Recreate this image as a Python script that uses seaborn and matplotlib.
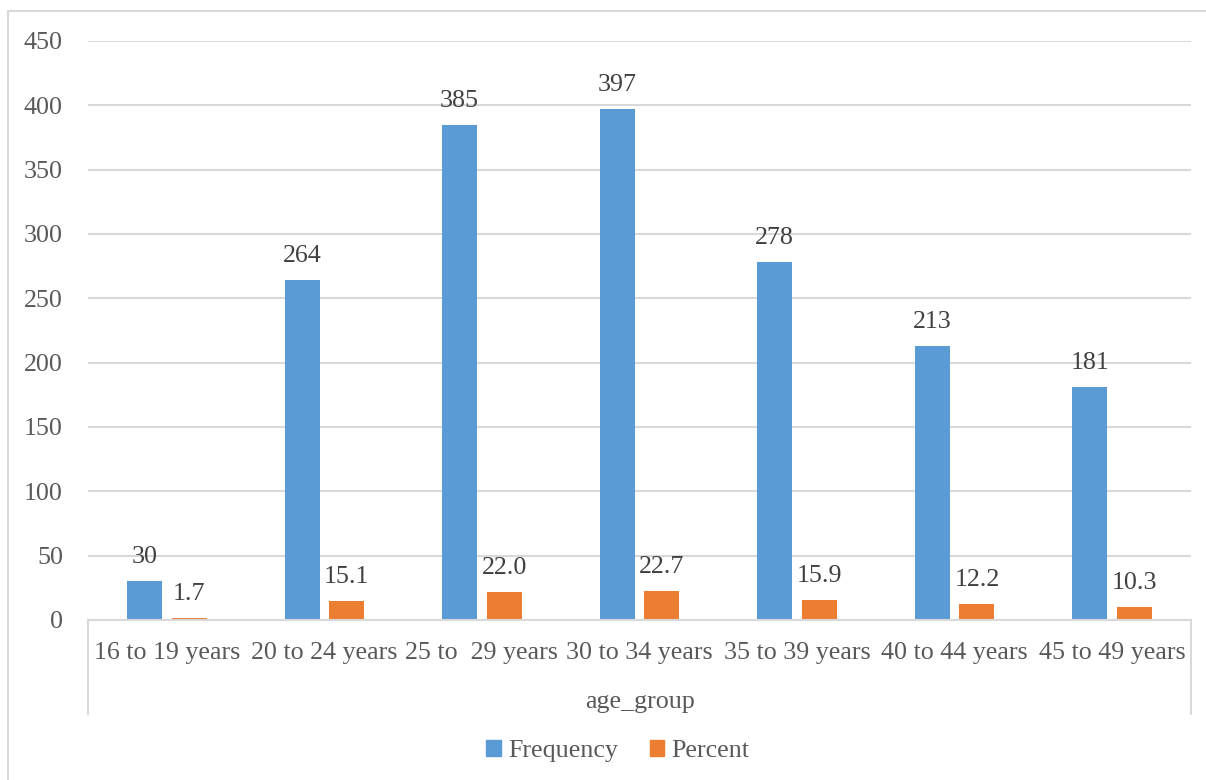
import matplotlib
matplotlib.use("Agg")
import matplotlib.pyplot as plt
from matplotlib.patches import Rectangle
from matplotlib.lines import Line2D
import seaborn as sns
import pandas as pd

age_groups = ["16 to 19 years", "20 to 24 years", "25 to  29 years", "30 to 34 years",
              "35 to 39 years", "40 to 44 years", "45 to 49 years"]
frequency = [30, 264, 385, 397, 278, 213, 181]
percent = [1.7, 15.1, 22.0, 22.7, 15.9, 12.2, 10.3]
series_names = ["Frequency", "Percent"]
y_ticks = [0, 50, 100, 150, 200, 250, 300, 350, 400, 450]

BLUE = "#5B9BD5"
ORANGE = "#ED7D31"
GRID = "#D9D9D9"
TICK_TXT = "#595959"
LABEL_TXT = "#404040"

df = pd.DataFrame({
    "age_group": age_groups * 2,
    "series": [series_names[0]] * len(age_groups) + [series_names[1]] * len(age_groups),
    "value": frequency + percent,
})

sns.set_theme(style="white")
plt.rcParams["font.family"] = ["Liberation Serif", "DejaVu Serif"]

W, H = 1206, 780
fig = plt.figure(figsize=(W / 100, H / 100), dpi=100)
ax = fig.add_axes([88 / W, 1 - 620 / H, (1191 - 88) / W, (620 - 41) / H])

sns.barplot(data=df, x="age_group", y="value", hue="series",
            palette=[BLUE, ORANGE], width=0.566, ax=ax, legend=False,
            saturation=1, zorder=3)

# narrow each bar around its centre to leave a small gap between the pair
bar_w = 0.222
for p in ax.patches:
    cx = p.get_x() + p.get_width() / 2
    p.set_x(cx - bar_w / 2)
    p.set_width(bar_w)
    p.set_edgecolor("none")

ax.set_xlim(-0.5, len(age_groups) - 0.5)
ax.set_ylim(0, 450)
ax.set_yticks(y_ticks)
ax.yaxis.grid(True, color=GRID, linewidth=1.5, zorder=0)
ax.set_axisbelow(True)
for s in ["left", "right", "top"]:
    ax.spines[s].set_visible(False)
ax.spines["bottom"].set_color(GRID)
ax.spines["bottom"].set_linewidth(1.5)
ax.spines["bottom"].set_zorder(4)

ax.tick_params(axis="y", length=0, pad=18, labelsize=18.7, labelcolor=TICK_TXT)
ax.tick_params(axis="x", length=0, pad=16, labelsize=18.7, labelcolor=TICK_TXT)
ax.set_ylabel("")
ax.set_xlabel("age_group", fontsize=18.7, color=TICK_TXT, labelpad=19)

# value labels above the bars
for p in ax.patches:
    h = p.get_height()
    txt = f"{h:.0f}" if h >= 25 and float(h).is_integer() else f"{h:.1f}"
    ax.annotate(txt, (p.get_x() + p.get_width() / 2, h), xytext=(0, 18),
                textcoords="offset pixels", ha="center", va="baseline",
                fontsize=18.7, color=LABEL_TXT, zorder=5)

# outer category boundaries below the axis
for xpx in (88, 1191):
    fig.add_artist(Line2D([xpx / W, xpx / W], [1 - 620 / H, 1 - 714 / H],
                          transform=fig.transFigure, color=GRID, linewidth=1.5))

# chart area border
fig.add_artist(Rectangle((8 / W, -0.01), 1.2, 1 - 11 / H + 0.01,
                         transform=fig.transFigure, fill=False,
                         edgecolor=GRID, linewidth=1.5))

handles = [Rectangle((0, 0), 1, 1, color=BLUE), Rectangle((0, 0), 1, 1, color=ORANGE)]
fig.legend(handles, series_names, loc="center", bbox_to_anchor=(618 / W, 1 - 751 / H),
           ncol=2, frameon=False, fontsize=18.7, labelcolor=TICK_TXT,
           handlelength=0.55, handleheight=0.55, handletextpad=0.3, columnspacing=1.2)

fig.savefig("out.png", dpi=100)
